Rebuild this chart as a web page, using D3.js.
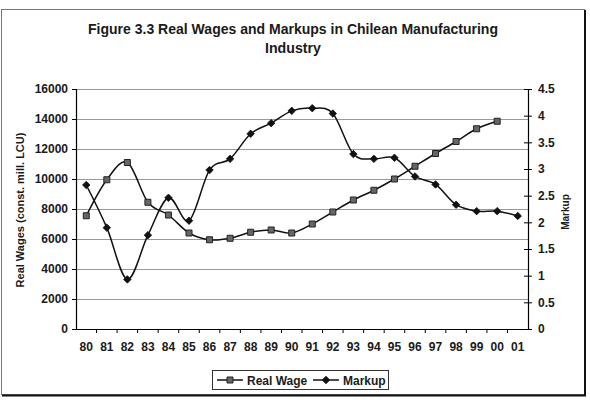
<!DOCTYPE html>
<html><head><meta charset="utf-8">
<script src="https://cdn.jsdelivr.net/npm/d3@7/dist/d3.min.js"></script>
<style>body{margin:0;background:#fff}svg{display:block;font-family:Arial,"Liberation Sans",sans-serif}</style>
</head><body><svg id="c" width="590" height="400"></svg>
<script>
const years = ["80","81","82","83","84","85","86","87","88","89","90","91","92","93","94","95","96","97","98","99","00","01"];
const realWage = [7550,9950,11100,8450,7600,6400,5950,6050,6450,6600,6400,7000,7800,8600,9250,10000,10850,11700,12500,13350,13850,null];
const markup = [2.70,1.90,0.93,1.76,2.46,2.03,2.98,3.19,3.66,3.86,4.09,4.14,4.04,3.28,3.19,3.21,2.86,2.71,2.33,2.21,2.21,2.12];
const leftTicks = [0,2000,4000,6000,8000,10000,12000,14000,16000];
const rightTicks = [0,0.5,1,1.5,2,2.5,3,3.5,4,4.5];
const titleLines = ["Figure 3.3 Real Wages and Markups in Chilean Manufacturing","Industry"];
const legendLabels = ["Real Wage","Markup"];

const svg = d3.select("#c");
const L=76,R=528,T=89,B=329;
const x = d3.scaleBand().domain(years).range([L,R]);
const yL = d3.scaleLinear().domain([0,16000]).range([B,T]);
const yR = d3.scaleLinear().domain([0,4.5]).range([B,T]);
const cx = d => x(d)+x.bandwidth()/2;

// chart border with shadow
svg.append("rect").attr("x",1.5).attr("y",9.5).attr("width",583).attr("height",385).attr("fill","#fff").attr("stroke","#777").attr("stroke-width",1);
svg.append("path").attr("d","M585,10V395.5H2").attr("fill","none").attr("stroke","#111").attr("stroke-width",2);

// title
svg.selectAll("text.title").data(titleLines).join("text").attr("class","title")
  .attr("x",293).attr("y",(d,i)=>34+i*19).attr("text-anchor","middle")
  .attr("font-size",15).attr("font-weight","bold").attr("fill","#1a1a1a")
  .attr("textLength",(d,i)=>i===0?410:56).attr("lengthAdjust","spacingAndGlyphs")
  .text(d=>d);

// gridlines
svg.append("g").selectAll("line").data(leftTicks.filter(d=>d>0)).join("line")
  .attr("x1",L).attr("x2",R).attr("y1",d=>yL(d)+0.5).attr("y2",d=>yL(d)+0.5)
  .attr("stroke","#999").attr("stroke-width",1);

// left axis
const gl = svg.append("g").attr("transform",`translate(${L},0)`)
  .call(d3.axisLeft(yL).tickValues(leftTicks).tickSize(4).tickPadding(4).tickFormat(d3.format("d")));
// right axis
const gr = svg.append("g").attr("transform",`translate(${R},0)`)
  .call(d3.axisRight(yR).tickValues(rightTicks).tickSize(4).tickPadding(6).tickFormat(d=>String(d)));
gr.selectAll(".tick line").attr("x1",-4);
// bottom axis
const gb = svg.append("g").attr("transform",`translate(0,${B})`)
  .call(d3.axisBottom(x).tickSize(0).tickPadding(13));
gb.append("g").selectAll("line").data(years.slice(1)).join("line")
  .attr("x1",d=>x(d)).attr("x2",d=>x(d)).attr("y1",0).attr("y2",4).attr("stroke","#000");
[gl,gr,gb].forEach(g=>{
  g.selectAll("path.domain").attr("stroke","#000").attr("stroke-width",1.2);
  g.selectAll(".tick line").attr("stroke","#000");
  g.selectAll("text").attr("font-size",12).attr("font-weight","bold").attr("fill","#1a1a1a").attr("font-family","Arial, 'Liberation Sans', sans-serif");
});

// axis titles
svg.append("text").attr("transform","translate(24,210) rotate(-90)").attr("text-anchor","middle")
  .attr("font-size",11).attr("font-weight","bold").attr("fill","#1a1a1a").text("Real Wages (const. mill. LCU)");
svg.append("text").attr("transform","translate(569,212) rotate(-90)").attr("text-anchor","middle")
  .attr("font-size",10).attr("font-weight","bold").attr("fill","#1a1a1a").text("Markup");

// lines
const curve = d3.curveCardinal.tension(0);
const wageData = years.map((y,i)=>({y,v:realWage[i]})).filter(d=>d.v!=null);
const mkData = years.map((y,i)=>({y,v:markup[i]}));
svg.append("path").datum(wageData).attr("fill","none").attr("stroke","#111").attr("stroke-width",1.5)
  .attr("d",d3.line().x(d=>cx(d.y)).y(d=>yL(d.v)).curve(curve));
svg.append("path").datum(mkData).attr("fill","none").attr("stroke","#111").attr("stroke-width",1.5)
  .attr("d",d3.line().x(d=>cx(d.y)).y(d=>yR(d.v)).curve(curve));

const diamondType = {draw(ctx,size){const r=Math.sqrt(size/2);ctx.moveTo(0,-r);ctx.lineTo(r,0);ctx.lineTo(0,r);ctx.lineTo(-r,0);ctx.closePath();}};
const sq = d3.symbol().type(d3.symbolSquare).size(36);
const dm = d3.symbol().type(diamondType).size(28);
svg.append("g").selectAll("path").data(wageData).join("path")
  .attr("transform",d=>`translate(${cx(d.y)},${yL(d.v)})`).attr("d",sq)
  .attr("fill","#666").attr("stroke","#222").attr("stroke-width",1);
svg.append("g").selectAll("path").data(mkData).join("path")
  .attr("transform",d=>`translate(${cx(d.y)},${yR(d.v)})`).attr("d",dm)
  .attr("fill","#111").attr("stroke","#111").attr("stroke-width",0.8);

// legend
const lg = svg.append("g");
lg.append("rect").attr("x",212.5).attr("y",370.5).attr("width",176).attr("height",19).attr("fill","#fff").attr("stroke","#333");
const items = [{lab:legendLabels[0],x0:217,sym:sq,fill:"#666"},{lab:legendLabels[1],x0:313,sym:dm,fill:"#111"}];
items.forEach(it=>{
  lg.append("line").attr("x1",it.x0).attr("x2",it.x0+26).attr("y1",380).attr("y2",380).attr("stroke","#111").attr("stroke-width",1.5);
  lg.append("path").attr("transform",`translate(${it.x0+13},380)`).attr("d",it.sym).attr("fill",it.fill).attr("stroke","#222");
  lg.append("text").attr("x",it.x0+30).attr("y",384.5).attr("font-size",12).attr("font-weight","bold").attr("fill","#1a1a1a").text(it.lab);
});
</script></body></html>
